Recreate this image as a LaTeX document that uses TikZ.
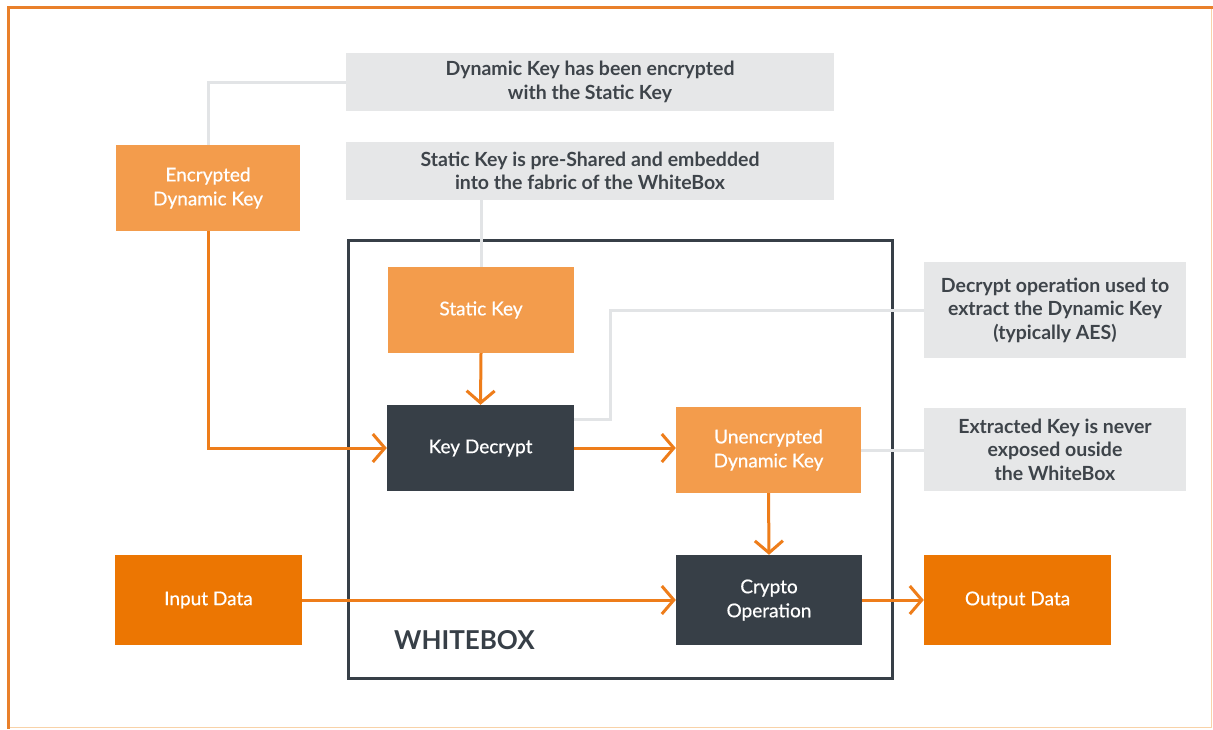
\documentclass[tikz,border=0pt]{standalone}
\usepackage{fontspec}
\setmainfont{Lato}
\usetikzlibrary{arrows.meta,calc}
\definecolor{lorange}{HTML}{F39C4C}
\definecolor{dorange}{HTML}{EC7602}
\definecolor{arrorange}{HTML}{EE7D1A}
\definecolor{dgray}{HTML}{373F47}
\definecolor{lgray}{HTML}{E6E7E8}
\definecolor{linegray}{HTML}{E2E4E6}
\definecolor{framelt}{HTML}{F8D2A8}
\definecolor{frameor}{HTML}{E9802A}
\definecolor{txtgray}{HTML}{3E444A}
\tikzset{
  box/.style={rectangle, inner sep=0pt, align=center, text=white, font=\fontsize{19}{24}\selectfont\addfontfeature{FakeBold=0.6}},
  lbox/.style={box, fill=lorange},
  obox/.style={box, fill=dorange},
  dbox/.style={box, fill=dgray},
  gbox/.style={rectangle, inner sep=0pt, align=center, fill=lgray, text=txtgray, font=\bfseries\fontsize{19.5}{23.5}\selectfont},
  flow/.style={arrorange, line width=3pt, -{Straight Barb[length=12pt,width=28pt,line width=3pt]}},
  note/.style={linegray, line width=3pt},
}
\begin{document}
\begin{tikzpicture}[x=1pt,y=-1pt]
\useasboundingbox (0,0) rectangle (1213,729);
\fill[white] (0,0) rectangle (1213,729);
% frame
\draw[framelt, line width=1.5pt] (8,727.5) -- (1211.5,727.5) -- (1211.5,8);
\draw[frameor, line width=3pt] (8,729) -- (8,7) -- (1213,7);

% whitebox frame
\node[draw=dgray, line width=3pt, minimum width=544pt, minimum height=438pt, inner sep=0pt] (wb) at (620,459) {};
\node[anchor=west, text=dgray, font=\bfseries\fontsize{26}{30}\selectfont, inner sep=0pt] (wbl) at (394,640) {WHITEBOX};

% gray notes
\node[gbox, minimum width=488pt, minimum height=58pt] (g1) at (590,82) {Dynamic Key has been encrypted\\with the Static Key};
\node[gbox, minimum width=488pt, minimum height=58pt] (g2) at (590,171) {Static Key is pre-Shared and embedded\\into the fabric of the WhiteBox};
\node[gbox, minimum width=262pt, minimum height=96pt] (g3) at (1055,310) {Decrypt operation used to\\extract the Dynamic Key\\(typically AES)};
\node[gbox, minimum width=262pt, minimum height=83pt] (g4) at (1055,449.5) {Extracted Key is never\\exposed ouside\\the WhiteBox};

% boxes
\node[lbox, minimum width=184pt, minimum height=86pt] (enc) at (208,188) {Encrypted\\Dynamic Key};
\node[lbox, minimum width=186pt, minimum height=86pt] (stat) at (481,310) {Static Key};
\node[dbox, minimum width=187pt, minimum height=86pt] (kd) at (480.5,448) {Key Decrypt};
\node[lbox, minimum width=185pt, minimum height=86pt] (unenc) at (768.5,450) {Unencrypted\\Dynamic Key};
\node[dbox, minimum width=186pt, minimum height=90pt] (crypto) at (769,600) {Crypto\\Operation};
\node[obox, minimum width=187pt, minimum height=90pt] (input) at (208.5,600) {Input Data};
\node[obox, minimum width=187pt, minimum height=90pt] (output) at (1017.5,600) {Output Data};

% note connectors
\draw[note] (enc.north) |- (g1.west);
\draw[note] (stat.north) -- (stat.north |- g2.south);
\coordinate (kdn) at ([yshift=29pt]kd.east);
\draw[note] (kdn) -- ++(36,0) |- (g3.west);
\draw[note] (unenc.east) -- (unenc.east -| g4.west);

% flows
\draw[flow] (enc.south) |- (kd.west);
\draw[flow] (stat.south) -- (kd.north);
\draw[flow] (kd.east) -- (kd.east -| unenc.west);
\draw[flow] (unenc.south) -- (crypto.north);
\draw[flow] (input.east) -- (crypto.west);
\draw[flow] (crypto.east) -- (output.west);
\end{tikzpicture}
\end{document}
